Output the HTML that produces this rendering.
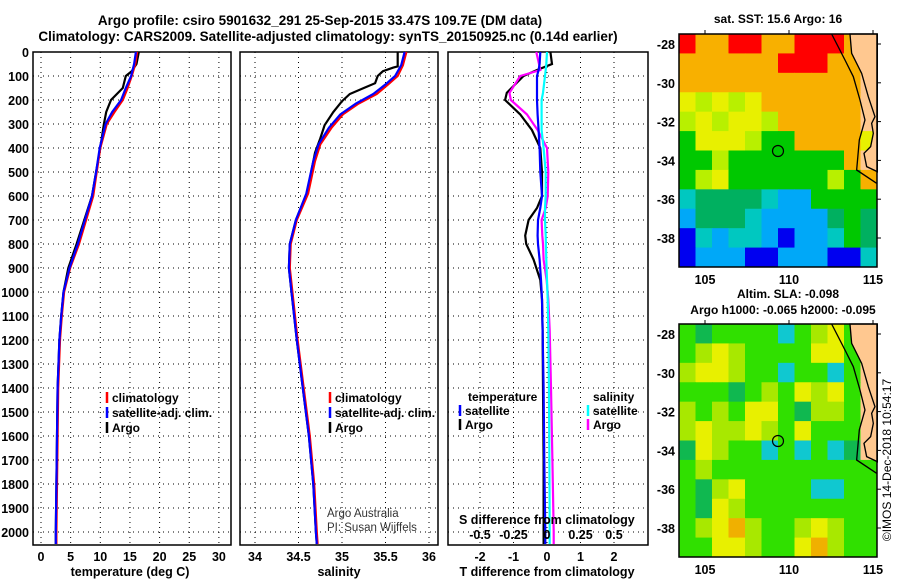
<!DOCTYPE html>
<html><head><meta charset="utf-8"><style>
body{margin:0;background:#fff}
svg{display:block;font-family:"Liberation Sans",Arial,sans-serif;font-weight:bold}
</style></head><body>
<svg id="c" width="900" height="580" viewBox="0 0 900 580">
<text x="320" y="25" text-anchor="middle" font-size="13.5">Argo profile: csiro 5901632_291 25-Sep-2015 33.47S 109.7E (DM data)</text>
<text x="328" y="41" text-anchor="middle" font-size="13.5">Climatology: CARS2009. Satellite-adjusted climatology: synTS_20150925.nc (0.14d earlier)</text>
<g id="g1"></g>
<g id="g2"></g>
<g id="g3"></g>
<g id="m1"></g>
<g id="m2"></g>
<text transform="translate(891,460) rotate(-90)" text-anchor="middle" font-size="12" font-weight="normal">©IMOS 14-Dec-2018 10:54:17</text>
</svg>
<script>
// ---- data ----
const depthTicks=[0,100,200,300,400,500,600,700,800,900,1000,1100,1200,1300,1400,1500,1600,1700,1800,1900,2000];
const tTicks=[0,5,10,15,20,25,30];
const sTicks=[34,34.5,35,35.5,36];
const dTTicks=[-2,-1,0,1,2];
const dSTicks=[-0.5,-0.25,0,0.25,0.5];
const dSTickLabels=["-0.5","-0.25","0","0.25","0.5"];

const tClimDepth=[0,50,100,150,200,250,300,400,500,600,700,800,900,1000,1100,1200,1400,1600,1800,2000,2050];
const tClim=[16.2,15.9,15.3,14.6,13.8,12.4,11.1,10.0,9.4,8.8,7.6,6.4,4.9,3.9,3.5,3.2,2.9,2.8,2.7,2.6,2.6];
const tSat=[16.0,15.7,15.2,14.3,13.5,12.0,10.9,9.9,9.3,8.6,7.4,6.2,4.8,3.8,3.4,3.1,2.8,2.7,2.6,2.5,2.5];
const tArgoDepth=[0,50,80,100,150,200,250,300,400,500,600,700,800,900,1000,1100,1200,1400,1600,1800,2000,2050];
const tArgo=[16.5,16.1,15.3,14.3,13.8,11.8,11.0,10.6,10.0,9.3,8.6,7.3,6.0,4.6,3.8,3.4,3.1,2.8,2.7,2.6,2.5,2.5];

const sClimDepth=[0,55,100,135,175,215,260,315,385,455,590,700,800,900,1000,1200,1400,1600,1800,2000,2050];
const sClim=[35.74,35.7,35.64,35.53,35.4,35.19,35.01,34.88,34.75,34.69,34.61,34.48,34.41,34.4,34.43,34.49,34.56,34.63,34.68,34.71,34.72];
const sSat=[35.72,35.68,35.61,35.5,35.36,35.16,34.98,34.85,34.73,34.67,34.59,34.47,34.4,34.39,34.42,34.48,34.55,34.62,34.67,34.7,34.71];
const sArgoDepth=[0,60,65,80,100,130,150,175,205,250,305,360,420,585,700,800,900,1000,1200,1400,1600,1800,2000,2050];
const sArgo=[35.64,35.64,35.59,35.47,35.41,35.38,35.25,35.09,35.0,34.9,34.8,34.75,34.69,34.6,34.47,34.4,34.39,34.42,34.48,34.55,34.62,34.67,34.7,34.71];

const dDepth=[0,50,75,100,170,200,260,325,400,500,600,650,700,765,800,865,950,1030,1160,1400,1700,2000,2050];
const dTArgo=[0.1,0.15,-0.3,-0.7,-1.2,-1.25,-0.8,-0.45,-0.2,-0.15,-0.15,-0.3,-0.55,-0.65,-0.62,-0.4,-0.2,-0.15,-0.13,-0.12,-0.1,-0.1,-0.1];
const dSArgo=[-0.08,-0.06,-0.05,-0.2,-0.28,-0.27,-0.15,-0.07,0,0.01,0.005,-0.01,-0.04,-0.035,-0.03,-0.025,-0.003,0.01,0.02,0.03,0.04,0.05,0.05];
const dTSat=[-0.2,-0.22,-0.25,-0.3,-0.3,-0.3,-0.28,-0.25,-0.22,-0.2,-0.15,-0.2,-0.27,-0.28,-0.27,-0.22,-0.18,-0.15,-0.13,-0.1,-0.08,-0.05,-0.05];
const dSSat=[0,-0.005,-0.01,-0.015,-0.03,-0.04,-0.04,-0.04,-0.025,-0.01,-0.01,-0.015,-0.015,-0.01,-0.008,-0.005,0,0.005,0.01,0.014,0.018,0.02,0.02];

const sstRows=["ROORROORRROS","OOOOOORRROOS","OOOOOOOOOOOS","YLYLYOOOOOOS","LYLYYLOOOOOS","GYYYLGGOOOOY","GGLGGGGGGGOS","GLYGGGGGGLGO","CDDDDCBBGGGG","BDDDCBBBBDGD","NCBCCBNBBCGD","NBBBNNBBBNNC"];
const slaRows=["GDGGGGCGLYGS","GLYLGGGGYYGS","LYYLGGCGGCGS","GGGDGLGYLYGS","LGLGYYGDLLGS","LYLLYLGYGGGS","DYLGGCGCGCDS","GLGGGGGGGGGG","GDLYGGGGCCGG","GDYLGGGGGGGG","GLYOLGGLYLGG","GGYYLGGYOLGG"];
const latTicks=[-28,-30,-32,-34,-36,-38];
const lonTicks=[105,110,115];

// ---- helpers ----
const NS="http://www.w3.org/2000/svg";
function mk(p,tag,at,txt){const e=document.createElementNS(NS,tag);for(const k in at)e.setAttribute(k,at[k]);if(txt!==undefined)e.textContent=txt;p.appendChild(e);return e;}
const Y0=52,YB=545,PXD=0.24;
const yD=d=>Y0+d*PXD;

function panel(g,x0,x1,xs,ticks,labels,name){
  const b=mk(g,'rect',{x:x0,y:Y0,width:x1-x0,height:YB-Y0,fill:'none',stroke:'#000','stroke-width':1.5});
  
  
  depthTicks.forEach(d=>{
    const l=mk(g,'line',{x1:x0,x2:x1,y1:yD(d),y2:yD(d),stroke:'#000','stroke-dasharray':'1 4','stroke-width':1});
    
    
  });
  ticks.forEach((t,i)=>{
    const X=xs(t);
    const l=mk(g,'line',{x1:X,x2:X,y1:Y0,y2:YB,stroke:'#000','stroke-dasharray':'1 4','stroke-width':1});
    
    
    if(labels){const tx=mk(g,'text',{x:X,y:561,'text-anchor':'middle','font-size':12.5},labels[i]);
      
      }
  });
}
function line(g,xs,vals,depths,color,name){
  const pts=vals.map((v,i)=>xs(v).toFixed(1)+','+yD(depths[i]).toFixed(1)).join(' ');
  const p=mk(g,'polyline',{points:pts,fill:'none',stroke:color,'stroke-width':2.2});
  
  
}
function legend(g,x,y,color,label){
  const l=mk(g,'line',{x1:x,x2:x,y1:y-10,y2:y+1,stroke:color,'stroke-width':2.5});
  
  
  const t=mk(g,'text',{x:x+5,y:y,'font-size':12},label);
  
  
}

// ---- panel 1 temperature ----
const g1=document.getElementById('g1');
const xT=v=>41+v*5.93;
panel(g1,33,231,xT,tTicks,tTicks.map(String),'temperature');
depthTicks.forEach(d=>{const t=mk(g1,'text',{x:29,y:yD(d)+5,'text-anchor':'end','font-size':12.5},String(d));
  
  });
line(g1,xT,tArgo,tArgoDepth,'#000','argo-temperature-line');
line(g1,xT,tClim,tClimDepth,'#f00','climatology-temperature-line');
line(g1,xT,tSat,tClimDepth,'#00f','satellite-temperature-line');
legend(g1,107,402,'#f00','climatology');
legend(g1,107,417,'#00f','satellite-adj. clim.');
legend(g1,107,432,'#000','Argo');
mk(g1,'text',{x:130,y:576,'text-anchor':'middle','font-size':12.5},'temperature (deg C)');

// ---- panel 2 salinity ----
const g2=document.getElementById('g2');
const xS=v=>255+(v-34)*87;
panel(g2,240,438,xS,sTicks,sTicks.map(String),'salinity');
line(g2,xS,sArgo,sArgoDepth,'#000','argo-salinity-line');
line(g2,xS,sClim,sClimDepth,'#f00','climatology-salinity-line');
line(g2,xS,sSat,sClimDepth,'#00f','satellite-salinity-line');
legend(g2,330,402,'#f00','climatology');
legend(g2,330,417,'#00f','satellite-adj. clim.');
legend(g2,330,432,'#000','Argo');
mk(g2,'text',{x:327,y:517,'font-size':11.5,'font-weight':'normal',fill:'#333'},'Argo Australia');
mk(g2,'text',{x:327,y:531,'font-size':11.5,'font-weight':'normal',fill:'#333'},'PI: Susan Wijffels');
mk(g2,'text',{x:339,y:576,'text-anchor':'middle','font-size':12.5},'salinity');

// ---- panel 3 differences ----
const g3=document.getElementById('g3');
const xdT=v=>547+v*33.5;
const xdS=v=>547+v*134;
panel(g3,448,648,xdT,dTTicks,dTTicks.map(String),'difference');
line(g3,xdT,dTArgo,dDepth,'#000','argo-t-diff-line');
line(g3,xdS,dSArgo,dDepth,'#f0f','argo-s-diff-line');
line(g3,xdT,dTSat,dDepth,'#00f','satellite-t-diff-line');
line(g3,xdS,dSSat,dDepth,'#0ff','satellite-s-diff-line');
mk(g3,'text',{x:468,y:401,'font-size':12},'temperature');
legend(g3,460,415,'#00f','satellite');
legend(g3,460,429,'#000','Argo');
mk(g3,'text',{x:593,y:401,'font-size':12},'salinity');
legend(g3,588,415,'#0ff','satellite');
legend(g3,588,429,'#f0f','Argo');
mk(g3,'text',{x:459,y:524,'font-size':12.5},'S difference from climatology');
dSTicks.forEach((v,i)=>{const t=mk(g3,'text',{x:xdS(v),y:539,'text-anchor':'middle','font-size':12.5},dSTickLabels[i]);
  
  });
mk(g3,'text',{x:547,y:576,'text-anchor':'middle','font-size':12.5},'T difference from climatology');

// ---- maps ----
const pal1={R:'#ff0000',O:'#f8b000',Y:'#e8f000',L:'#b8f000',G:'#00c800',D:'#00b060',C:'#00c8c0',B:'#00a8f8',N:'#0000f0',S:'#ffc890'};
const pal2={G:'#30e000',D:'#10b850',Y:'#e8f000',L:'#a8e800',O:'#f0b000',C:'#10c8d0',S:'#ffc890'};
function map(id,top,rows,pal,title1,title2){
  const g=document.getElementById(id);
  const X0=679,X1=877,H=233,cw=(X1-X0)/12,ch=H/12;
  rows.forEach((r,i)=>{[...r].forEach((k,j)=>{
    const c=mk(g,'rect',{x:X0+j*cw,y:top+i*ch,width:cw+0.5,height:ch+0.5,fill:pal[k]});
    
    
  });});
  const cg=mk(g,'g',{transform:`translate(660,${top-34}) scale(0.3333)`});
  mk(cg,'polygon',{points:'570,102 652,102 652,515 620,500 612,460 632,440 640,400 635,370 645,350 625,290 605,220 575,160',fill:'#ffc890',stroke:'#000','stroke-width':4});
  mk(cg,'polyline',{points:'515,102 555,180 580,230 600,300 615,360 598,420 590,510 650,550',fill:'none',stroke:'#000','stroke-width':4});
  mk(g,'circle',{cx:778,cy:top+117,r:5.5,fill:'none',stroke:'#000','stroke-width':1.2});
  mk(g,'rect',{x:X0,y:top,width:X1-X0,height:H,fill:'none',stroke:'#000','stroke-width':1.5});
  const yL=l=>top+10+(-28-l)*19.4, xL=l=>705+(l-105)*16.8;
  latTicks.forEach(l=>{
    const t=mk(g,'text',{x:675,y:yL(l)+5,'text-anchor':'end','font-size':12.5},String(l));
    
    
    mk(g,'line',{x1:X1,x2:X1+4,y1:yL(l),y2:yL(l),stroke:'#000'});
  });
  lonTicks.forEach(l=>{
    const t=mk(g,'text',{x:xL(l),y:top+250,'text-anchor':'middle','font-size':12.5},String(l));
    
    
    mk(g,'line',{x1:xL(l),x2:xL(l),y1:top,y2:top-4,stroke:'#000'});
  });
  if(title2){
    mk(g,'text',{x:788,y:top-26,'text-anchor':'middle','font-size':12},title1);
    mk(g,'text',{x:783,y:top-10,'text-anchor':'middle','font-size':12},title2);
  } else {
    mk(g,'text',{x:778,y:top-11,'text-anchor':'middle','font-size':12},title1);
  }
}
map('m1',34,sstRows,pal1,'sat. SST: 15.6 Argo: 16');
map('m2',324,slaRows,pal2,'Altim. SLA: -0.098','Argo h1000: -0.065 h2000: -0.095');
</script>
</body></html>
